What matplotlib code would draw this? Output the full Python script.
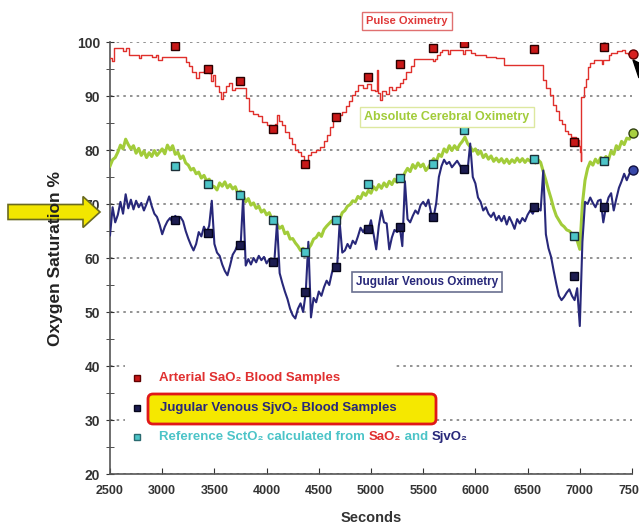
import numpy as np
import matplotlib
matplotlib.use("Agg")
import matplotlib.pyplot as plt
from matplotlib.patches import FancyArrow, FancyBboxPatch, Rectangle, Polygon

plt.rcParams['font.family'] = ['Liberation Sans', 'DejaVu Sans']
plt.rcParams['font.weight'] = 'bold'

# pulse oximetry (SpO2), stepped trace
t_pulse = [2500, 2520, 2540, 2600, 2620, 2650, 2680, 2760, 2780, 2800, 2880, 2900, 2940, 2960,
           2990, 3000, 3200, 3230, 3260, 3290, 3320, 3350, 3400, 3450, 3470, 3490, 3510, 3540,
           3560, 3580, 3610, 3640, 3670, 3700, 3780, 3800, 3830, 3870, 3920, 3960, 4000, 4040,
           4080, 4100, 4120, 4150, 4180, 4210, 4240, 4270, 4300, 4330, 4360, 4400, 4430, 4470,
           4510, 4550, 4580, 4610, 4640, 4680, 4720, 4760, 4790, 4820, 4850, 4880, 4920, 4960,
           5000, 5040, 5060, 5070, 5090, 5110, 5140, 5170, 5200, 5240, 5280, 5310, 5340, 5380,
           5410, 5560, 5590, 5610, 5630, 5660, 5680, 5720, 5740, 5760, 5860, 5880, 5900, 5960,
           6000, 6080, 6100, 6160, 6200, 6260, 6270, 6620, 6650, 6680, 6710, 6740, 6770, 6800,
           6830, 6860, 6890, 6920, 6960, 6990, 7000, 7010, 7015, 7040, 7060, 7080, 7100, 7140,
           7200, 7210, 7220, 7260, 7280, 7300, 7340, 7360, 7400, 7430, 7460, 7500]
spo2 = [97.0, 96.5, 98.8, 98.8, 98.3, 98.8, 97.6, 97.6, 97.0, 97.6, 97.6, 97.2, 97.6, 96.6,
        96.6, 97.3, 97.3, 96.3, 95.6, 94.4, 93.4, 94.4, 94.6, 94.2, 92.8, 93.8, 91.8, 90.8,
        89.4, 90.8, 91.8, 92.4, 91.2, 91.4, 91.4, 89.6, 87.2, 86.6, 86.3, 85.2, 84.6, 83.7,
        84.8, 86.4, 85.4, 84.6, 83.4, 82.2, 81.2, 80.0, 79.6, 78.8, 77.8, 79.0, 79.6, 80.0,
        80.6, 81.6, 82.8, 84.2, 86.0, 86.4, 87.0, 88.2, 89.0, 90.2, 91.0, 92.0, 91.4, 92.2,
        91.2, 91.0, 94.8, 90.6, 89.2, 91.0, 90.4, 91.6, 91.2, 91.6, 92.4, 93.2, 94.4, 95.6,
        96.9, 96.9, 96.4, 96.9, 97.6, 98.2, 98.6, 98.6, 97.8, 98.6, 98.6, 97.8, 98.6, 98.0,
        97.6, 97.6, 97.2, 97.2, 97.0, 97.0, 95.7, 95.7, 93.0, 91.4, 90.2, 88.4, 87.2, 85.6,
        84.8, 83.6, 83.0, 82.4, 81.8, 80.8, 79.6, 78.0, 89.8, 91.6, 93.2, 95.4, 96.2, 96.7,
        96.7, 96.0, 96.7, 96.7, 97.6, 98.0, 98.0, 98.4, 98.6, 98.0, 97.8, 97.8]

# cerebral and jugular monitors, sampled every 25 s
t_monitor = np.arange(2500, 7501, 25)
sct_o2 = [77.0, 78.2, 78.6, 79.6, 80.9, 80.2, 82.0, 81.0, 80.2, 80.8,
          79.4, 80.3, 79.0, 79.8, 78.6, 79.5, 78.8, 79.9, 79.0, 79.6,
          80.2, 79.3, 80.9, 80.0, 80.8, 79.2, 79.6, 78.4, 78.9, 77.6,
          77.2, 76.3, 76.6, 75.6, 75.9, 74.8, 75.3, 74.3, 74.6, 73.4,
          73.2, 72.6, 73.9, 73.3, 74.1, 73.0, 73.6, 72.8, 73.2, 71.9,
          72.4, 71.6, 70.4, 71.0, 69.8, 70.2, 69.2, 69.6, 68.5, 68.9,
          68.0, 68.4, 67.3, 67.6, 66.2, 65.5, 65.9, 64.5, 64.8, 63.5,
          63.6, 62.8, 62.2, 61.4, 61.8, 60.6, 61.7, 62.4, 63.5, 63.8,
          64.6, 64.0, 65.3, 65.9, 66.4, 66.9, 66.5, 67.6, 67.2, 68.4,
          68.8, 69.6, 69.9, 70.6, 70.4, 71.4, 71.0, 72.1, 71.6, 72.5,
          72.0, 73.2, 72.6, 73.6, 72.9, 73.9, 73.2, 74.2, 73.6, 74.6,
          74.0, 75.2, 74.6, 75.8, 76.6, 76.0, 77.3, 76.6, 77.6, 76.9,
          77.4, 76.2, 76.8, 77.6, 78.4, 77.8, 79.2, 78.8, 80.2, 79.6,
          80.8, 79.9, 80.8, 80.1, 81.0, 81.6, 82.4, 81.2, 80.6, 79.8,
          80.2, 79.2, 79.8, 78.6, 79.2, 78.3, 78.9, 77.9, 78.5, 77.8,
          78.4, 77.6, 78.3, 77.5, 78.2, 77.7, 78.5, 77.8, 78.4, 77.7,
          78.3, 77.9, 78.4, 77.6, 78.2, 77.7, 76.0, 74.4, 72.6, 71.0,
          69.2, 67.8, 67.0, 66.2, 65.8, 65.2, 65.0, 64.5, 64.1, 63.2,
          61.6, 70.0, 74.4, 76.6, 77.8, 77.2, 78.3, 77.6, 78.6, 77.9,
          78.8, 78.2, 79.8, 79.2, 80.8, 80.2, 81.6, 81.0, 82.2, 82.0,
          83.1]
sjv_o2 = [64.2, 69.4, 66.6, 68.0, 70.4, 68.2, 71.8, 69.2, 70.8, 69.0,
          70.6, 69.4, 70.2, 68.8, 70.0, 71.4, 69.6, 68.2, 67.6, 66.2,
          64.4, 65.8, 66.8, 67.4, 66.6, 67.8, 67.2, 67.6, 66.8, 65.0,
          63.6, 62.4, 61.4, 62.6, 64.8, 64.0, 65.8, 64.6, 66.0, 70.6,
          62.6, 61.0, 60.4, 58.8, 57.6, 56.8, 58.6, 60.6, 61.4, 62.6,
          61.8, 71.2, 58.6, 59.8, 58.8, 60.0, 59.2, 60.4, 59.6, 60.2,
          59.0, 59.8, 59.0, 59.6, 66.6, 57.2, 55.4, 53.8, 52.4, 50.6,
          49.4, 48.8, 50.6, 51.6, 50.0, 53.6, 63.0, 49.0, 52.6, 51.8,
          53.8, 53.0, 54.6, 55.8, 55.0, 57.2, 58.8, 58.2, 66.6, 61.0,
          61.4, 62.6, 61.8, 63.2, 62.6, 64.0, 65.6, 64.8, 65.8, 65.2,
          67.0, 64.4, 61.6, 66.0, 68.8, 66.6, 66.4, 61.6, 63.8, 65.2,
          64.8, 65.8, 62.2, 74.2, 67.2, 66.6, 67.8, 68.8, 68.2, 69.8,
          70.4, 69.6, 70.8, 68.4, 67.6, 70.2, 75.0, 77.0, 78.2, 77.4,
          77.8, 76.8, 77.4, 78.0, 77.2, 76.4, 76.6, 76.2, 81.2, 75.0,
          73.8, 71.2, 70.4, 68.8, 69.4, 68.2, 67.6, 68.4, 67.0, 67.8,
          66.8, 67.8, 66.2, 67.6, 66.6, 65.4, 67.2, 66.4, 67.4, 66.8,
          68.0, 68.8, 68.2, 69.4, 69.2, 68.8, 76.2, 64.4, 61.8, 60.2,
          57.6, 55.2, 53.0, 52.2, 52.8, 53.6, 54.2, 53.0, 52.2, 54.4,
          47.4, 63.0, 70.4, 70.0, 71.2, 70.2, 69.4, 70.6, 70.8, 66.6,
          69.4, 71.2, 72.0, 68.8, 71.0, 73.0, 74.2, 75.6, 74.4, 75.6,
          76.3]

# blood samples
t_samples = [3125, 3440, 3745, 4060, 4370, 4665, 4975, 5280, 5590, 5890, 6560, 6940, 7235, 7505]
sa_o2_samples = [99.2, 95.0, 92.8, 83.9, 77.4, 86.1, 93.5, 95.9, 98.9, 99.9, 98.7, 81.5, 99.1, 97.8]
sjv_o2_samples = [67.0, 64.6, 62.5, 59.3, 53.7, 58.3, 65.4, 65.7, 67.6, 76.5, 69.4, 56.7, 69.4, 76.3]
sct_o2_samples = [77.0, 73.7, 71.7, 67.0, 61.1, 67.0, 73.7, 74.8, 77.4, 83.7, 78.3, 64.1, 78.0, 83.2]

RED = '#e0302c'
GREEN = '#a2cc3a'
NAVY = '#28287a'
CYAN = '#4cc4c8'

fig = plt.figure(figsize=(6.39, 5.25), dpi=100)
ax = fig.add_axes([110 / 639, 51 / 525, 522 / 639, 432 / 525])

ax.plot(t_pulse, spo2, color=RED, lw=1.0, drawstyle='steps-post', zorder=3)
ax.plot(t_monitor, sct_o2, color=GREEN, lw=2.2, zorder=3)
ax.plot(t_monitor, sjv_o2, color=NAVY, lw=1.5, zorder=3)

# sample markers, last draw of each set shown as a circle
ax.plot(t_samples[:-1], sa_o2_samples[:-1], 's', ms=6, mfc='#c81818', mec='#2a0000', mew=1, zorder=5)
ax.plot(t_samples[:-1], sjv_o2_samples[:-1], 's', ms=6, mfc='#1c1c50', mec='#05051a', mew=1, zorder=5)
ax.plot(t_samples[:-1], sct_o2_samples[:-1], 's', ms=6, mfc=CYAN, mec='#1c3038', mew=1, zorder=5)
ax.plot(t_samples[-1:], sa_o2_samples[-1:], 'o', ms=6.5, mfc='#d82020', mec='#600000', mew=1, zorder=5, clip_on=False)
ax.plot(t_samples[-1:], sjv_o2_samples[-1:], 'o', ms=6.5, mfc='#3848a8', mec='#101040', mew=1, zorder=5, clip_on=False)
ax.plot(t_samples[-1:], sct_o2_samples[-1:], 'o', ms=6.5, mfc='#a8d040', mec='#304010', mew=1, zorder=5, clip_on=False)

ax.set_xlim(2500, 7500)
ax.set_ylim(20, 100)
ax.set_xticks(np.arange(2500, 7501, 500))
ax.set_yticks(np.arange(20, 101, 10))
ax.set_yticks(np.arange(25, 100, 10), minor=True)
ax.tick_params(axis='x', labelsize=9, colors='#333333', direction='in', length=4, pad=8)
ax.tick_params(axis='y', labelsize=10, colors='#333333', direction='inout', length=6, pad=4)
ax.tick_params(axis='y', which='minor', direction='inout', length=6, color='#333333')
for lab in ax.get_xticklabels() + ax.get_yticklabels():
    lab.set_fontweight('bold')
for side in ('top', 'right'):
    ax.spines[side].set_visible(False)
for side in ('left', 'bottom'):
    ax.spines[side].set_color('#555555')
    ax.spines[side].set_linewidth(1.2)

ax.yaxis.grid(True, linestyle=(0, (1.5, 2.5)), color='#808080', lw=1.2)
ax.set_axisbelow(True)
ax.set_xlabel('Seconds', fontsize=10.5, fontweight='bold', color='#333333', labelpad=10)

# overlay in pixel units for the annotations and legend
ov = fig.add_axes([0, 0, 1, 1], zorder=10)
ov.set_xlim(0, 639)
ov.set_ylim(525, 0)
ov.axis('off')
ov.patch.set_alpha(0)

ov.add_patch(FancyArrow(8, 212, 92, 0, width=15, head_width=31, head_length=17,
                        length_includes_head=True, fc='#f2e600', ec='#6a6a20', lw=1.2, zorder=1))
ov.add_patch(Polygon([[633, 60], [639, 63], [639, 78]], closed=True, fc='black', ec='black', zorder=1))
ov.text(56, 258, 'Oxygen Saturation %', rotation=90, ha='center', va='center',
        fontsize=12.5, fontweight='bold', color='#222222', zorder=3)

# series labels
ov.text(407, 21, 'Pulse Oximetry', ha='center', va='center', fontsize=8, fontweight='bold',
        color='#e03838', bbox=dict(boxstyle='square,pad=0.4', fc='white', ec='#e07070', lw=1))
ov.text(447, 117, 'Absolute Cerebral Oximetry', ha='center', va='center', fontsize=9, fontweight='bold',
        color=GREEN, bbox=dict(boxstyle='square,pad=0.35', fc='white', ec='#dde8a0', lw=1))
ov.text(427, 282, 'Jugular Venous Oximetry', ha='center', va='center', fontsize=8.5, fontweight='bold',
        color=NAVY, bbox=dict(boxstyle='square,pad=0.35', fc='white', ec='#6a7090', lw=1.2))

# legend block
ov.add_patch(Rectangle((125, 357), 270, 95, fc='white', ec='none', zorder=1))
ov.add_patch(FancyBboxPatch((148, 394), 288, 30, boxstyle='round,pad=0,rounding_size=5',
                            fc='#f5e800', ec='#e01818', lw=2, zorder=2))
ov.plot([137], [378], 's', ms=5, mfc='#c81818', mec='#600000', zorder=3)
ov.plot([137], [408], 's', ms=5, mfc='#1c1c50', mec='#05051a', zorder=3)
ov.plot([137], [437], 's', ms=5, mfc=CYAN, mec='#2a6a70', zorder=3)
ov.text(159, 378, 'Arterial SaO₂ Blood Samples', va='center', fontsize=9.5, fontweight='bold',
        color='#e03030', zorder=3)
ov.text(160, 408, 'Jugular Venous SjvO₂ Blood Samples', va='center', fontsize=9.5, fontweight='bold',
        color=NAVY, zorder=3)
parts = [('Reference SctO₂ calculated from ', CYAN), ('SaO₂', '#e03030'),
         (' and ', CYAN), ('SjvO₂', NAVY)]
prev = ov.text(159, 437, parts[0][0], va='center', fontsize=9.5, fontweight='bold',
               color=parts[0][1], zorder=3)
for txt, col in parts[1:]:
    prev = ov.annotate(txt, xy=(1, 0), xycoords=prev, va='bottom', fontsize=9.5,
                       fontweight='bold', color=col, zorder=3)

fig.savefig('out.png', dpi=100)
